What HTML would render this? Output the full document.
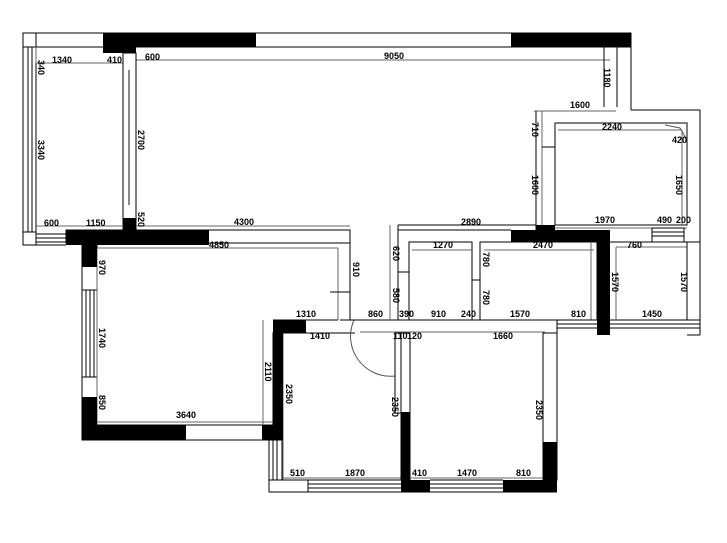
<!DOCTYPE html>
<html><head><meta charset="utf-8"><style>
html,body{margin:0;padding:0;background:#fff;}
svg{display:block}
text{font-family:"Liberation Sans",sans-serif;font-size:9px;font-weight:bold;fill:#000;}
</style></head><body>
<svg width="727" height="543" viewBox="0 0 727 543" xmlns="http://www.w3.org/2000/svg">
<g fill="none" stroke="#000" stroke-width="1">
<!-- top wall -->
<rect x="23" y="33" width="608" height="14"/>
<rect x="23" y="33" width="13" height="212"/>
<line x1="28" y1="47" x2="28" y2="232"/><line x1="32" y1="47" x2="32" y2="232"/>
<rect x="23" y="232" width="13" height="13"/>
<line x1="36" y1="234" x2="66" y2="234"/><line x1="36" y1="238" x2="66" y2="238"/><line x1="36" y1="242" x2="66" y2="242"/>
<line x1="36" y1="245" x2="66" y2="245"/>
<!-- dim lines top -->
<line x1="36" y1="63" x2="123" y2="63" stroke="#666"/>
<line x1="136" y1="60" x2="610" y2="60" stroke="#666"/>
<line x1="36" y1="47" x2="36" y2="63" stroke="#666"/>
<!-- balcony/living wall -->
<rect x="123" y="53" width="13" height="178"/>
<line x1="129" y1="70" x2="129" y2="205" stroke="#888" stroke-width="2"/>
<!-- wall 4300 -->
<line x1="136" y1="226" x2="350" y2="226" stroke="#666"/>
<line x1="36" y1="226" x2="123" y2="226" stroke="#666"/>
<rect x="66" y="230" width="284" height="13"/>
<line x1="97" y1="248" x2="338" y2="248" stroke="#666"/>
<!-- left room -->
<rect x="82" y="243" width="15" height="197"/>
<line x1="86" y1="290" x2="86" y2="377"/><line x1="90" y1="290" x2="90" y2="377"/><line x1="94" y1="290" x2="94" y2="377"/>
<line x1="82" y1="290" x2="97" y2="290"/><line x1="82" y1="377" x2="97" y2="377"/>
<line x1="97" y1="248" x2="97" y2="425" stroke="#666"/>
<line x1="97" y1="422" x2="273" y2="422" stroke="#666"/>
<rect x="82" y="425" width="200" height="15"/>
<line x1="338" y1="248" x2="338" y2="320" stroke="#666"/>
<line x1="350" y1="243" x2="350" y2="320"/>
<line x1="330" y1="292" x2="350" y2="292"/>
<line x1="273" y1="320" x2="338" y2="320"/>
<line x1="263" y1="320" x2="263" y2="425" stroke="#666"/>
<!-- bathroom/lower left -->
<rect x="273" y="333" width="10" height="107"/>
<line x1="283" y1="333" x2="283" y2="480" stroke="#666"/>
<line x1="283" y1="333" x2="355" y2="333"/>
<rect x="269" y="440" width="13" height="40"/>
<line x1="273" y1="440" x2="273" y2="480"/><line x1="277" y1="440" x2="277" y2="480"/>
<rect x="269" y="480" width="39" height="12"/>
<line x1="308" y1="480" x2="401" y2="480"/><line x1="308" y1="484" x2="401" y2="484"/><line x1="308" y1="488" x2="401" y2="488"/><line x1="308" y1="492" x2="557" y2="492"/>
<line x1="430" y1="480" x2="503" y2="480"/><line x1="430" y1="484" x2="503" y2="484"/><line x1="430" y1="488" x2="503" y2="488"/>
<line x1="283" y1="478" x2="543" y2="478" stroke="#666"/>
<!-- door arc -->
<path d="M354 320 A40 40 0 0 0 395 376" stroke="#555"/>
<line x1="395" y1="333" x2="395" y2="376"/>
<!-- corridor walls -->
<line x1="340" y1="320" x2="557" y2="320"/>
<line x1="360" y1="332" x2="545" y2="332" stroke="#666"/>
<rect x="395" y="333" width="6" height="80"/>
<rect x="401" y="333" width="9" height="147"/>
<rect x="543" y="333" width="14" height="147"/>
<line x1="410" y1="478" x2="543" y2="478" stroke="#666"/>
<!-- mid small rooms -->
<line x1="390" y1="225" x2="390" y2="320" stroke="#666"/>
<line x1="398" y1="225" x2="398" y2="320"/>
<line x1="398" y1="225" x2="536" y2="225"/>
<line x1="398" y1="230" x2="511" y2="230"/>
<rect x="409" y="242" width="63" height="78"/>
<line x1="398" y1="272" x2="409" y2="272"/>
<line x1="412" y1="250" x2="472" y2="250" stroke="#666"/>
<rect x="480" y="242" width="117" height="78"/>
<line x1="472" y1="280" x2="480" y2="280"/>
<line x1="484" y1="250" x2="594" y2="250" stroke="#666"/>
<line x1="591" y1="242" x2="591" y2="320" stroke="#666"/>
<!-- right rooms -->
<line x1="604" y1="47" x2="604" y2="107"/><line x1="617" y1="47" x2="617" y2="107"/>
<line x1="631" y1="47" x2="631" y2="110"/><line x1="631" y1="110" x2="700" y2="110"/>
<line x1="700" y1="110" x2="700" y2="335"/>
<line x1="534" y1="111" x2="616" y2="111" stroke="#666"/>
<line x1="536" y1="111" x2="536" y2="230"/>
<line x1="542" y1="111" x2="542" y2="230" stroke="#666"/>
<rect x="555" y="123" width="132" height="102"/>
<line x1="542" y1="147" x2="555" y2="147"/>
<line x1="558" y1="130" x2="682" y2="130" stroke="#666"/>
<line x1="682" y1="130" x2="682" y2="225" stroke="#666"/>
<path d="M665 125 L680 128 L687 140" stroke="#555"/>
<line x1="555" y1="228" x2="687" y2="228" stroke="#666"/>
<rect x="652" y="228" width="32" height="14"/>
<line x1="652" y1="232" x2="684" y2="232"/><line x1="652" y1="236" x2="684" y2="236"/>
<line x1="610" y1="242" x2="700" y2="242"/>
<line x1="616" y1="247" x2="687" y2="247" stroke="#666"/>
<line x1="687" y1="242" x2="687" y2="320"/>
<line x1="557" y1="320" x2="700" y2="320"/>
<line x1="557" y1="324" x2="700" y2="324"/><line x1="557" y1="328" x2="700" y2="328"/>
<line x1="557" y1="320" x2="557" y2="335"/>
<line x1="687" y1="335" x2="700" y2="335"/>
<line x1="616" y1="247" x2="616" y2="320" stroke="#666"/>
</g>
<g fill="#000">
<rect x="103" y="33" width="153" height="14"/>
<rect x="511" y="33" width="120" height="14"/>
<rect x="103" y="47" width="33" height="6"/>
<rect x="123" y="218" width="13" height="14"/>
<rect x="66" y="230" width="143" height="15"/>
<rect x="82" y="243" width="15" height="24"/>
<rect x="82" y="397" width="15" height="43"/>
<rect x="82" y="425" width="104" height="15"/>
<rect x="262" y="425" width="21" height="15"/>
<rect x="273" y="320" width="10" height="120"/>
<rect x="273" y="320" width="33" height="13"/>
<rect x="401" y="412" width="9" height="80"/>
<rect x="401" y="480" width="29" height="12"/>
<rect x="503" y="480" width="54" height="12"/>
<rect x="543" y="442" width="14" height="50"/>
<rect x="511" y="230" width="99" height="12"/>
<rect x="597" y="230" width="13" height="105"/>
<rect x="536" y="225" width="19" height="6"/>
</g>
<g>
<text x="52" y="63">1340</text><text x="107" y="63">410</text><text x="145" y="60">600</text>
<text x="384" y="59">9050</text><text x="570" y="108">1600</text><text x="602" y="130">2240</text>
<text x="672" y="143">420</text><text x="595" y="223">1970</text><text x="657" y="223">490</text><text x="676" y="223">200</text>
<text x="44" y="226">600</text><text x="86" y="226">1150</text><text x="234" y="225">4300</text>
<text x="209" y="248">4850</text><text x="461" y="225">2890</text><text x="433" y="248">1270</text>
<text x="533" y="248">2470</text><text x="627" y="248">760</text>
<text x="296" y="317">1310</text><text x="310" y="339">1410</text><text x="368" y="317">860</text>
<text x="399" y="317">390</text><text x="431" y="317">910</text><text x="461" y="317">240</text>
<text x="510" y="317">1570</text><text x="571" y="317">810</text><text x="596" y="317">90</text><text x="642" y="317">1450</text>
<text x="393" y="339">110</text><text x="407" y="339">120</text><text x="493" y="339">1660</text>
<text x="176" y="418">3640</text><text x="345" y="476">1870</text>
<text x="412" y="476">410</text><text x="457" y="476">1470</text><text x="516" y="476">810</text>
<text x="290" y="476">510</text>
</g>
<g>
<text transform="translate(38,60) rotate(90)">340</text>
<text transform="translate(38,140) rotate(90)">3340</text>
<text transform="translate(138,130) rotate(90)">2700</text>
<text transform="translate(138,212) rotate(90)">520</text>
<text transform="translate(99,260) rotate(90)">970</text>
<text transform="translate(99,328) rotate(90)">1740</text>
<text transform="translate(99,395) rotate(90)">850</text>
<text transform="translate(353,262) rotate(90)">910</text>
<text transform="translate(265,362) rotate(90)">2110</text>
<text transform="translate(286,384) rotate(90)">2350</text>
<text transform="translate(392,397) rotate(90)">2350</text>
<text transform="translate(536,400) rotate(90)">2350</text>
<text transform="translate(598,266) rotate(90)">1570</text>
<text transform="translate(612,272) rotate(90)">1570</text>
<text transform="translate(681,272) rotate(90)">1570</text>
<text transform="translate(532,175) rotate(90)">1600</text>
<text transform="translate(676,175) rotate(90)">1650</text>
<text transform="translate(604,68) rotate(90)">1180</text>
<text transform="translate(532,122) rotate(90)">710</text>
<text transform="translate(483,252) rotate(90)">780</text>
<text transform="translate(483,290) rotate(90)">780</text>
<text transform="translate(393,246) rotate(90)">620</text>
<text transform="translate(393,288) rotate(90)">580</text>
</g>
</svg>
</body></html>
